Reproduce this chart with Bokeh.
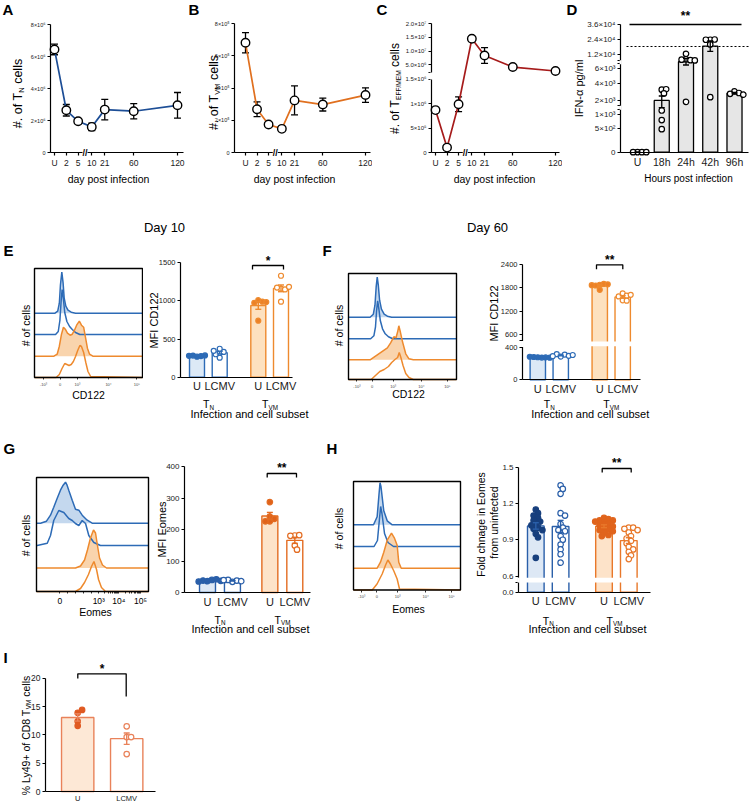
import numpy as np
from math import pi
from bokeh.plotting import figure
from bokeh.layouts import row, column
from bokeh.models import (ColumnDataSource, Whisker, TeeHead, Label,
                          FixedTicker, Range1d)
from bokeh.embed import file_html
from bokeh.resources import INLINE

FONT = "Liberation Sans"

# ------------------------------------------------------------------ data
# A-C: cell numbers after LCMV infection (mean and SEM)
days = ["U", "2", "5", "10", "21", "60", "120"]
tn_mean = [6.44e6, 2.64e6, 1.95e6, 1.60e6, 2.68e6, 2.58e6, 2.95e6]
tn_sem = [0.33e6, 0.36e6, 0.05e6, 0.23e6, 0.64e6, 0.48e6, 0.80e6]
tvm_mean = [6.82e5, 2.69e5, 1.74e5, 1.47e5, 3.24e5, 2.98e5, 3.57e5]
tvm_sem = [0.63e5, 0.46e5, 0.05e5, 0.05e5, 0.90e5, 0.40e5, 0.45e5]
teff_mean = [8.7e5, 1.0e5, 9.9e5, 1.45e7, 8.4e6, 4.15e6, 2.7e6]
teff_sem = [0.2e5, 0.1e5, 1.5e5, 0.4e6, 2.9e6, 0.2e6, 0.1e6]

# D: serum IFN-alpha (pg/ml) per mouse
ifn_hours = ["U", "18h", "24h", "42h", "96h"]
ifn_u = [0, 0, 0, 0]
ifn_18h = [3300, 3350, 2850, 1270, 790, 480]
ifn_24h = [12800, 10000, 9600, 9800, 9500, 1900]
ifn_42h = [23800, 24000, 23800, 20100, 2400]
ifn_96h = [3100, 2900, 2800, 2700]
ifn_limit = 18500

# E-H: groups are TN U, TN LCMV, TVM U, TVM LCMV
subset_ticks = ["U", "LCMV", "U", "LCMV"]
cd122_day10 = [[268, 276, 282, 285, 279],
               [255, 322, 330, 372, 300, 345],
               [1010, 990, 975, 985, 740],
               [1330, 1160, 1150, 1175, 1185, 990]]
cd122_day60 = [[282, 278, 285, 280, 288, 276],
               [290, 315, 320, 300, 295, 310],
               [1880, 1900, 1860, 1890, 1750, 1870],
               [1660, 1600, 1580, 1480, 1470, 1620]]
eomes_mfi = [[36, 40, 38, 42, 35, 37],
             [34, 38, 40, 36, 39],
             [287, 226, 234, 241, 226],
             [181, 182, 180, 149, 136]]
eomes_fold = [[1.15, 1.12, 1.10, 1.08, 1.06, 1.05, 1.03, 1.02, 1.00, 0.99, 0.98, 0.95, 0.92, 0.75],
              [1.35, 1.32, 1.28, 1.12, 1.10, 1.03, 1.00, 0.98, 0.97, 0.93, 0.90, 0.86, 0.82, 0.78, 0.71],
              [1.08, 1.07, 1.06, 1.06, 1.05, 1.04, 1.03, 1.02, 1.01, 1.00, 0.99, 0.98, 0.97, 0.96, 0.94, 0.93],
              [1.00, 1.00, 0.99, 0.98, 0.96, 0.93, 0.91, 0.89, 0.87, 0.84, 0.82, 0.80, 0.77, 0.74]]

# I: Ly49+ of CD8 TVM cells (%)
ly49_groups = ["U", "LCMV"]
ly49_u = [13.9, 14.4, 12.4, 11.6]
ly49_lcmv = [11.5, 9.6, 9.6, 6.6]

# Histogram overlays: channel (% of axis) and event counts
e_tn_u_x = [0, 19, 21.5, 23, 24, 25.3, 26.5, 27.5, 29, 31, 34, 38, 100]
e_tn_u_y = [0, 0, 2, 10, 28, 41, 30, 15, 7, 3, 1, 0, 0]
e_tn_l_x = [0, 19.5, 22, 23.5, 24.7, 25.6, 26.7, 28, 30, 32.5, 35, 38, 42, 100]
e_tn_l_y = [0, 0, 3, 14, 34, 45, 36, 22, 13, 8, 5, 2, 0, 0]
e_vm_u_x = [0, 18, 21, 23, 25, 26.8, 28.5, 30.5, 33, 35, 37, 39, 41.5, 43.5, 45.5, 47, 49, 51, 54, 100]
e_vm_u_y = [0, 0, 2, 10, 22, 29, 27, 23, 21, 22, 26, 31, 35, 31, 29, 20, 8, 2, 0, 0]
e_vm_l_x = [0, 20, 23, 25.5, 28, 30, 32, 34, 36, 38, 40, 42, 43.5, 45.5, 47.5, 49.5, 52, 100]
e_vm_l_y = [0, 0, 3, 9, 14, 13, 12, 13, 16, 21, 27, 32, 31, 25, 15, 6, 1, 0]

f_tn_u_x = [0, 20, 23, 24.5, 25.6, 26.6, 27.6, 28.8, 30.5, 33, 36, 40, 100]
f_tn_u_y = [0, 0, 3, 12, 30, 40, 32, 17, 8, 3, 1, 0, 0]
f_tn_l_x = [0, 20.5, 23.5, 25, 26, 27, 28, 29.5, 31.5, 34, 37, 41, 100]
f_tn_l_y = [0, 0, 3, 12, 28, 38, 31, 18, 10, 5, 2, 0, 0]
f_vm_u_x = [0, 20, 24, 28, 32, 36, 39, 42, 44, 45.5, 46.6, 48, 50, 53, 56, 60, 100]
f_vm_u_y = [0, 0, 3, 6, 9, 12, 17, 23, 22, 28, 34, 28, 18, 6, 1, 0, 0]
f_vm_l_x = [0, 21, 25, 29, 33, 37, 40, 43, 45.5, 47, 48.5, 50.5, 53, 56, 60, 100]
f_vm_l_y = [0, 0, 4, 8, 10, 13, 17, 20, 22, 27, 22, 14, 6, 2, 0, 0]

g_tn_u_x = [0, 3.6, 8.9, 12.5, 15.4, 18.5, 21.4, 23.8, 25.9, 27.3, 28.8, 31.9, 34.8, 37.8, 40.8, 45.3, 49.7, 100]
g_tn_u_y = [0, 0, 2, 8, 16, 25, 33, 38, 41, 38, 33, 23, 14, 13, 8, 3, 0, 0]
g_tn_l_x = [0, 0.6, 9.6, 12.5, 15.4, 19.9, 24.4, 28.8, 31.9, 34.8, 37.8, 40.8, 43.8, 46.7, 51.2, 57.1, 100]
g_tn_l_y = [0, 0, 2.3, 10, 25, 35, 33, 27, 25, 22, 20, 25, 22, 10, 3, 0, 0]
g_vm_u_x = [0, 34.8, 39.3, 42.9, 45.5, 48.2, 50.9, 52.7, 54.5, 56.3, 58.9, 62.5, 100]
g_vm_u_y = [0, 0, 2, 8, 18, 30, 38, 35, 22, 10, 3, 0, 0]
g_vm_l_x = [0, 34.8, 39.3, 42.9, 46.4, 49.1, 51.3, 53.6, 55.4, 58, 61.6, 100]
g_vm_l_y = [0, 0, 3, 9, 17, 25, 30, 22, 12, 4, 0, 0]

h_tn_u_x = [0, 18.7, 22.1, 23.8, 24.8, 25.7, 28.3, 31.5, 36.2, 100]
h_tn_u_y = [0, 0, 8, 30, 42, 38, 14, 4, 0, 0]
h_tn_l_x = [0, 19.2, 22.4, 24.3, 25.4, 26.6, 29, 32.2, 37.4, 100]
h_tn_l_y = [0, 0, 6, 28, 40, 33, 13, 4, 0, 0]
h_vm_u_x = [0, 22.1, 25.2, 28.3, 31.5, 35.5, 38.3, 40.8, 42.3, 44.6, 100]
h_vm_u_y = [0, 0, 6, 16, 28, 35, 30, 23, 6, 0, 0]
h_vm_l_x = [0, 17.5, 22, 26.8, 30, 32.1, 34.5, 37.7, 40.8, 43, 100]
h_vm_l_y = [0, 0, 6, 16, 25, 30, 26, 19, 11, 1, 0]

# ------------------------------------------------------------------ axis layouts
DAY_POS = [0, 1, 2, 3.15, 4.25, 6.7, 10.4]
DAY_BREAK = 2.58
C_KV, C_KD = [0, 1.5e6, 2.2e6, 2.0e7], [0, 73.3, 80.3, 129.0]
D_KV = [0, 500, 1000, 2000, 4000, 6000, 12000, 24000, 36000]
D_KD = [0, 24, 38, 51.7, 68.4, 84, 97.4, 112.7, 127.7]
F_KV, F_KD = [0, 400, 440, 2400], [0, 32, 39, 115.3]
H_KV, H_KD = [0, 0.1, 0.6, 1.5], [0, 9.0, 16.2, 125.0]

SUP = str.maketrans("0123456789", "\u2070\u00b9\u00b2\u00b3\u2074\u2075\u2076\u2077\u2078\u2079")


def sci(m, e):
    return f"{m}\u00d710{str(e).translate(SUP)}"


def piece(kv, kd):
    return lambda v: np.interp(np.asarray(v, float), kv, kd)


ident = lambda v: np.asarray(v, float)

WIDTHS = {" ": 278, "#": 556, ".": 278, "o": 556, "f": 278, "T": 611, "c": 500,
          "e": 556, "l": 222, "s": 500, "N": 722, "V": 667, "M": 833, "E": 667,
          "F": 611, "/": 278, "%": 889, "L": 556, "y": 500, "+": 584, "C": 722,
          "D": 722, "i": 222, "r": 333, "m": 833, "t": 278}


def text_w(s, fs):
    return sum(WIDTHS.get(c, 556) for c in s) * fs / 1000.0


class Pane:
    """A figure covering one page region; its axes are pinned inside it."""

    def __init__(self, ox, oy, w, h, box, xmap, ymap):
        L, T, R, B = box
        self.xm, self.ym = xmap, ymap
        self.sx = (xmap[3] - xmap[1]) / (xmap[2] - xmap[0])
        self.sy = (ymap[1] - ymap[3]) / (ymap[2] - ymap[0])
        p = figure(width=w, height=h,
                   x_range=Range1d(self.fx(ox), self.fx(ox + w)),
                   y_range=Range1d(self.fy(oy + h), self.fy(oy)),
                   output_backend="svg", toolbar_location=None,
                   min_border_left=0, min_border_right=0,
                   min_border_top=0, min_border_bottom=0)
        p.title.visible = False
        p.outline_line_color = None
        p.xgrid.visible = False
        p.ygrid.visible = False
        p.background_fill_color = "white"
        p.border_fill_color = "white"
        xa, ya = p.xaxis[0], p.yaxis[0]
        xa.fixed_location = self.fy(B)
        ya.fixed_location = self.fx(L)
        xa.bounds = (self.fx(L), self.fx(R))
        self.p = p
        self.L, self.T, self.R, self.B = L, T, R, B

    def fx(self, X):
        a, pa, b, pb = self.xm
        return a + (X - pa) * (b - a) / (pb - pa)

    def fy(self, Y):
        a, pa, b, pb = self.ym
        return a + (Y - pa) * (b - a) / (pb - pa)

    def label(self, X, Y, text, fs, align="center", baseline="middle", angle=0.0,
              bold=False, color="black"):
        self.p.add_layout(Label(x=self.fx(X), y=self.fy(Y), text=text, text_font=FONT,
                                text_font_size=f"{fs:.2f}px", text_align=align,
                                text_baseline=baseline, angle=angle, text_color=color,
                                text_font_style="bold" if bold else "normal"))

    def rich(self, X, Y, parts, fs, vertical=False):
        total = sum(text_w(t, fs * k) for t, k, _ in parts)
        pos = -total / 2.0
        for t, k, sh in parts:
            f = fs * k
            lead = text_w(t[:len(t) - len(t.lstrip())], f)
            body = t.strip()
            if vertical:
                self.label(X + 0.35 * fs + sh * fs, Y - (pos + lead), body, f,
                           align="left", baseline="alphabetic", angle=pi / 2)
            else:
                self.label(X + pos + lead, Y + 0.35 * fs + sh * fs, body, f,
                           align="left", baseline="alphabetic")
            pos += text_w(t, f)

    def mask(self, xd, yd, fs, text="\u2002", color="black", bold=False):
        self.p.add_layout(Label(x=xd, y=yd, text=text, text_font=FONT,
                                text_font_size=f"{fs}px", text_align="center",
                                text_baseline="middle", text_color=color,
                                text_font_style="bold" if bold else "normal",
                                background_fill_color="white"))

    def bracket(self, x0, x1, y, y_left, y_right, star, star_y, fs=12):
        xs = [self.fx(x0), self.fx(x0), self.fx(x1), self.fx(x1)]
        ys = [self.fy(y_left), self.fy(y), self.fy(y), self.fy(y_right)]
        self.p.line(xs, ys, line_color="black", line_width=1.3)
        self.label((x0 + x1) / 2, star_y, star, fs, bold=True)


def set_ticks(ax, ticks, labels, fs, tick_out=3, minor=None, lw=1.2, standoff=2,
              color="#1a1a1a"):
    ticks = [round(float(t), 4) for t in ticks]
    ax.ticker = FixedTicker(ticks=ticks, minor_ticks=[float(m) for m in (minor or [])])
    ax.major_label_overrides = {t: l for t, l in zip(ticks, labels)}
    ax.major_label_text_font = FONT
    ax.major_label_text_font_size = f"{fs}px"
    ax.major_label_text_color = color
    ax.major_label_standoff = standoff
    ax.axis_line_width = lw
    ax.axis_line_color = "black"
    ax.major_tick_line_width = lw
    ax.major_tick_line_color = "black" if tick_out > 0 else None
    ax.major_tick_in = 0
    ax.major_tick_out = int(tick_out)
    if minor:
        ax.minor_tick_line_color = "black"
        ax.minor_tick_line_width = lw
        ax.minor_tick_in = 0
        ax.minor_tick_out = 2
    else:
        ax.minor_tick_line_color = None


def swarm(ypx, d):
    cands = [0.0] + [s * k * d * 0.4 for k in range(1, 16) for s in (1, -1)]
    placed, out = [], []
    for y in ypx:
        for c in cands:
            if all((c - a) ** 2 + (y - b) ** 2 >= (0.75 * d) ** 2 for a, b in placed):
                break
        placed.append((c, y))
        out.append(c)
    return out


def line_panel(pane, mean, sem, color, disp):
    m = np.asarray(mean, float)
    s = np.asarray(sem, float)
    src = ColumnDataSource(dict(x=DAY_POS, y=disp(m), up=disp(m + s), lo=disp(m - s)))
    head = dict(size=7, line_color="black", line_width=1.3)
    pane.p.add_layout(Whisker(source=src, base="x", upper="up", lower="lo",
                              line_color="black", line_width=1.3, level="underlay",
                              upper_head=TeeHead(**head), lower_head=TeeHead(**head)))
    pane.p.line("x", "y", source=src, line_color=color, line_width=1.7)
    pane.p.scatter("x", "y", source=src, marker="circle", size=8.5, fill_color="white",
                   line_color="black", line_width=1.4)
    set_ticks(pane.p.xaxis[0], DAY_POS, days, 8.5)
    pane.mask(DAY_BREAK, 0, 9, text="//", bold=True)


def bar_panel(pane, groups, pos, width, outline, fill, dot_fill, dot_line, dot_size,
              disp=ident, band=None, head=6, lw=1.4):
    p = pane.p
    for i, pts in enumerate(groups):
        a = np.asarray(pts, float)
        m = a.mean()
        p.vbar(x=[pos[i]], top=[float(disp(m))], bottom=[0], width=width,
               fill_color=fill[i], line_color=outline[i], line_width=lw)
    if band is not None:
        p.quad(left=[pane.fx(pane.L)], right=[pane.fx(pane.R)], bottom=[band[0]],
               top=[band[1]], fill_color="white", line_color=None)
    for i, pts in enumerate(groups):
        a = np.asarray(pts, float)
        m = a.mean()
        se = a.std(ddof=1) / np.sqrt(len(a)) if len(a) > 1 else 0.0
        ypx = disp(a) * pane.sy
        offs = np.array(swarm(list(ypx), dot_size)) / pane.sx
        p.scatter(x=list(pos[i] + offs), y=list(disp(a)), marker="circle", size=dot_size,
                  fill_color=dot_fill[i], line_color=dot_line[i], line_width=1.2)
        src = ColumnDataSource(dict(x=[pos[i]], up=[float(disp(m + se))], lo=[float(disp(m - se))]))
        th = dict(size=head, line_color=outline[i], line_width=lw)
        p.add_layout(Whisker(source=src, base="x", upper="up", lower="lo",
                             line_color=outline[i], line_width=lw, level="annotation",
                             upper_head=TeeHead(**th), lower_head=TeeHead(**th)))


def hist_panel(pane, traces, ticks, tick_labels, fs, minor=None, color="#444444"):
    p = pane.p
    p.yaxis.visible = False
    for xs, ys, off, col, fillc in traces:
        if fillc:
            p.varea(x=xs, y1=[off] * len(xs), y2=[off + y for y in ys], fill_color=fillc)
    for xs, ys, off, col, fillc in traces:
        p.line(xs, [off + y for y in ys], line_color=col, line_width=1.5)
    # histogram box
    p.quad(left=[0], right=[100], bottom=[0], top=[pane.fy(pane.T)], fill_color=None,
           line_color="black", line_width=1.4)
    ax = p.xaxis[0]
    set_ticks(ax, ticks, tick_labels, fs, tick_out=2, minor=minor, lw=0.8, color=color)
    ax.axis_line_color = None


BLUE, BLUE_F = "#2d6bb6", "#c4d8ee"
ORNG, ORNG_F = "#ee8a2e", "#f9d4ad"
CAT_FS = 11

# ------------------------------------------------------------------ row 1
A = Pane(0, 0, 186, 186, (50, 16, 183, 152), (0, 54, 10.4, 177), (0, 152, 8e6, 24))
line_panel(A, tn_mean, tn_sem, "#1d4e96", ident)
set_ticks(A.p.yaxis[0], [0, 2e6, 4e6, 6e6, 8e6], ["0", sci(2, 6), sci(4, 6), sci(6, 6), sci(8, 6)], 5.5)
A.p.yaxis[0].bounds = (0, 8e6)
A.label(2, 9, "A", 15, align="left", bold=True)
A.rich(13, 93, [("#. of T", 1, 0), ("N", 0.6, 0.28), (" cells", 1, 0)], 12.5, vertical=True)
A.label(108, 178, "day post infection", 10.5)

B = Pane(186, 0, 186, 186, (234, 16, 370, 152), (0, 245, 10.4, 365), (0, 152, 8e5, 23.3))
line_panel(B, tvm_mean, tvm_sem, "#e0701f", ident)
set_ticks(B.p.yaxis[0], [0, 2e5, 4e5, 6e5, 8e5], ["0", sci(2, 5), sci(4, 5), sci(6, 5), sci(8, 5)], 5.5)
B.p.yaxis[0].bounds = (0, 8e5)
B.label(188, 9, "B", 15, align="left", bold=True)
B.rich(209, 92, [("#. of T", 1, 0), ("VM", 0.6, 0.28), (" cells", 1, 0)], 12.5, vertical=True)
B.label(294, 178, "day post infection", 10.5)

c_disp = piece(C_KV, C_KD)
C = Pane(372, 0, 190, 186, (431, 16, 559, 152), (0, 435, 10.4, 555), (0, 152, 129, 23.3))
line_panel(C, teff_mean, teff_sem, "#a61b1b", c_disp)
c_vals = [0, 5e5, 1e6, 1.5e6, 5e6, 1e7, 1.5e7, 2e7]
c_labs = ["0", sci(5, 5), sci(1, 6), sci(1.5, 6), sci("5.0", 6), sci("1.0", 7), sci(1.5, 7), sci("2.0", 7)]
set_ticks(C.p.yaxis[0], list(c_disp(c_vals)) + [80.3], c_labs + [""], 6)
C.p.yaxis[0].bounds = (0, 129)
C.mask(C.fx(C.L), 76.8, 7)
C.label(376, 9, "C", 15, align="left", bold=True)
C.rich(390, 88, [("#. of T", 1, 0), ("EFF/MEM", 0.55, 0.28), (" cells", 1, 0)], 12, vertical=True)
C.label(494, 178, "day post infection", 10.5)

d_disp = piece(D_KV, D_KD)
D = Pane(562, 0, 188, 186, (620, 10, 748, 151.7), (0, 637, 4, 734), (0, 151.7, 127.7, 24))
bar_panel(D, [ifn_u, ifn_18h, ifn_24h, ifn_42h, ifn_96h], [0, 1, 2, 3, 4], 0.62,
          ["black"] * 5, ["#e6e6e6"] * 5, ["white"] * 5, ["black"] * 5, 5.5,
          disp=d_disp, head=6, lw=1.3)
d_labs = ["0", sci(5, 2), sci(1, 3), sci(2, 3), sci(4, 3), sci(6, 3), sci(1.2, 4), sci(2.4, 4), sci(3.6, 4)]
set_ticks(D.p.yaxis[0], list(d_disp(D_KV)) + [42.7, 46.4, 88.4, 91.7], d_labs + [""] * 4, 8)
D.p.yaxis[0].bounds = (0, 127.7)
set_ticks(D.p.xaxis[0], [0, 1, 2, 3, 4], ifn_hours, 10.5, tick_out=0, standoff=4)
D.mask(D.fx(D.L), 44.55, 3.5)
D.mask(D.fx(D.L), 90.05, 3.5)
D.p.line([D.fx(626), D.fx(750)], [float(d_disp(ifn_limit))] * 2, line_color="black",
         line_width=1.2, line_dash="2 2")
D.bracket(629, 741, 24, 24, 24, "**", 15)
D.label(566, 9, "D", 15, align="left", bold=True)
D.label(578, 88, "IFN-\u03b1 pg/ml", 11, angle=pi / 2)
D.label(688, 178, "Hours post infection", 10)

# ------------------------------------------------------------------ row 2
EF_OUT = [BLUE, BLUE, ORNG, ORNG]
EF_FILL = ["#dce9f6", "white", "#fde1bf", "white"]
EF_DOT = [BLUE, "white", "#ec8126", "white"]
HIST_TICKS_E = [8.3, 23.8, 39.8, 68.5, 94.8]
HIST_TICKS_F = [7.8, 21.8, 41.3, 67.4, 91.6]
HIST_LABS = ["-10\u00b3", "0", "10\u00b3", "10\u2074", "10\u2075"]

Eh = Pane(0, 186, 143, 234, (34, 268, 142, 377), (0, 34, 100, 142), (0, 377, 109, 268))
hist_panel(Eh, [(e_tn_u_x, e_tn_u_y, 64.3, BLUE, BLUE_F), (e_tn_l_x, e_tn_l_y, 43, BLUE, None),
                (e_vm_u_x, e_vm_u_y, 21.3, ORNG, ORNG_F), (e_vm_l_x, e_vm_l_y, 0, ORNG, None)],
           HIST_TICKS_E, HIST_LABS, 4)
Eh.label(3, 250, "E", 15, align="left", bold=True)
Eh.label(25, 325, "# of cells", 10.5, angle=pi / 2)
Eh.label(88, 394, "CD122", 10.5)

Eb = Pane(143, 186, 175, 234, (180, 252, 292, 376.6), (0, 196.5, 3.7, 280.5), (0, 376.6, 1500, 262.3))
bar_panel(Eb, cd122_day10, [0, 1, 2.7, 3.7], 0.66, EF_OUT, EF_FILL, EF_DOT, EF_OUT, 5)
set_ticks(Eb.p.yaxis[0], [0, 500, 1000, 1500], ["0", "500", "1000", "1500"], 7.5)
Eb.p.yaxis[0].bounds = (0, 1500)
set_ticks(Eb.p.xaxis[0], [0, 1, 2.7, 3.7], subset_ticks, CAT_FS, tick_out=0, standoff=3)
Eb.label(164, 227, "Day 10", 13)
Eb.label(153, 320, "MFI CD122", 11, angle=pi / 2)
Eb.rich(208, 400, [("T", 1, 0), ("N", 0.6, 0.28)], 10.5)
Eb.rich(269.5, 400, [("T", 1, 0), ("VM", 0.6, 0.28)], 10.5)
Eb.label(249, 413, "Infection and cell subset", 11)
Eb.bracket(252, 283, 265, 269, 269, "*", 260)

Fh = Pane(318, 186, 142, 234, (348, 273, 456, 379), (0, 348, 100, 456), (0, 379, 106, 273))
hist_panel(Fh, [(f_tn_u_x, f_tn_u_y, 62.3, BLUE, BLUE_F), (f_tn_l_x, f_tn_l_y, 40.7, BLUE, None),
                (f_vm_u_x, f_vm_u_y, 19.7, ORNG, ORNG_F), (f_vm_l_x, f_vm_l_y, 0, ORNG, None)],
           HIST_TICKS_F, HIST_LABS, 4)
Fh.label(322, 250, "F", 15, align="left", bold=True)
Fh.label(338, 325, "# of cells", 10.5, angle=pi / 2)
Fh.label(408, 393, "CD122", 10.5)

f_disp = piece(F_KV, F_KD)
Fb = Pane(460, 186, 290, 234, (522, 252, 640, 379.3), (0, 537.3, 3.7, 622.2), (0, 379.3, 115.3, 264))
bar_panel(Fb, cd122_day60, [0, 1, 2.7, 3.7], 0.67, EF_OUT, EF_FILL, EF_DOT, EF_OUT, 5,
          disp=f_disp, band=(33.6, 38.4))
f_vals = [0, 400, 600, 1200, 1800, 2400]
set_ticks(Fb.p.yaxis[0], list(f_disp(f_vals)) + [39.0], [str(v) for v in f_vals] + [""], 7.5)
Fb.p.yaxis[0].bounds = (0, 115.3)
Fb.mask(Fb.fx(Fb.L), 35.8, 5.5)
set_ticks(Fb.p.xaxis[0], [0, 1, 2.7, 3.7], subset_ticks, CAT_FS, tick_out=0, standoff=3)
Fb.label(487, 227, "Day 60", 13)
Fb.label(493, 313, "MFI CD122", 11, angle=pi / 2)
Fb.rich(548.7, 400, [("T", 1, 0), ("N", 0.6, 0.28)], 10.5)
Fb.rich(610.8, 400, [("T", 1, 0), ("VM", 0.6, 0.28)], 10.5)
Fb.label(589.7, 413, "Infection and cell subset", 11)
Fb.bracket(596, 622.3, 264.3, 268.7, 268.7, "**", 259)

# ------------------------------------------------------------------ row 3
GH_OUT = ["#2a5fa9", "#2a5fa9", "#e36c22", "#e36c22"]
GH_FILL = ["#dde8f5", "white", "#fde3c9", "white"]

g_minor = ([27.8, 34.8, 41.7, 48.7]
           + [55.6 + 17.9 * np.log10(k) for k in range(2, 10)]
           + [73.5 + 19.4 * np.log10(k) for k in range(2, 10)])
Gh = Pane(0, 420, 155, 220, (36, 477, 148, 591), (0, 36, 100, 148), (0, 591, 114, 477))
hist_panel(Gh, [(g_tn_u_x, g_tn_u_y, 68.3, BLUE, BLUE_F), (g_tn_l_x, g_tn_l_y, 46, BLUE, None),
                (g_vm_u_x, g_vm_u_y, 23.5, ORNG, ORNG_F), (g_vm_l_x, g_vm_l_y, 0, ORNG, None)],
           [20.8, 55.6, 73.5, 92.9], ["0", "10\u00b3", "10\u2074", "10\u2075"], 8.5,
           minor=g_minor, color="black")
Gh.label(3, 448, "G", 15, align="left", bold=True)
Gh.label(25, 535, "# of cells", 10.5, angle=pi / 2)
Gh.label(95, 611, "Eomes", 10.5)

Gb = Pane(155, 420, 167, 220, (184, 456, 310, 592), (0, 207, 3.5, 294.3), (0, 592, 400, 466))
bar_panel(Gb, eomes_mfi, [0, 1, 2.5, 3.5], 0.64, GH_OUT, GH_FILL,
          ["#2a5fa9", "white", "#e0621a", "white"], GH_OUT, 5.5)
set_ticks(Gb.p.yaxis[0], [0, 100, 200, 300, 400], ["0", "100", "200", "300", "400"], 8)
Gb.p.yaxis[0].bounds = (0, 400)
set_ticks(Gb.p.xaxis[0], [0, 1, 2.5, 3.5], subset_ticks, CAT_FS, tick_out=0, standoff=3)
Gb.label(161, 529, "MFI Eomes", 11, angle=pi / 2)
Gb.rich(219.5, 615.5, [("T", 1, 0), ("N", 0.6, 0.28)], 10.5)
Gb.rich(282, 615.5, [("T", 1, 0), ("VM", 0.6, 0.28)], 10.5)
Gb.label(250, 628, "Infection and cell subset", 11)
Gb.bracket(266.7, 296, 473, 477, 477, "**", 467)

Hh = Pane(322, 420, 143, 220, (353, 481, 460, 589.5), (0, 353, 100, 460), (0, 589.5, 108.5, 481))
hist_panel(Hh, [(h_tn_u_x, h_tn_u_y, 65.2, BLUE, BLUE_F), (h_tn_l_x, h_tn_l_y, 43.5, BLUE, None),
                (h_vm_u_x, h_vm_u_y, 21.8, ORNG, ORNG_F), (h_vm_l_x, h_vm_l_y, 0, ORNG, None)],
           HIST_TICKS_F, HIST_LABS, 4)
Hh.label(326, 448, "H", 15, align="left", bold=True)
Hh.label(338, 528, "# of cells", 10.5, angle=pi / 2)
Hh.label(408, 608, "Eomes", 10.5)

h_disp = piece(H_KV, H_KD)
Hb = Pane(465, 420, 285, 220, (518, 456, 650, 591.7), (0, 535.3, 3.75, 628.3), (0, 591.7, 125.0, 466.7))
bar_panel(Hb, eomes_fold, [0, 1, 2.75, 3.75], 0.67,
          ["#2a5fa9", "#2a5fa9", "#e8782a", "#e8782a"], GH_FILL,
          ["#173f7d", "white", "#e0641c", "white"],
          ["#173f7d", "#2a5fa9", "#e0641c", "#e8782a"], 5.5, disp=h_disp, band=(9.7, 14.5))
h_vals = [0.0, 0.6, 0.9, 1.2, 1.5]
set_ticks(Hb.p.yaxis[0], list(h_disp(h_vals)) + [9.7],
          ["0.0", "0.6", "0.9", "1.2", "1.5", ""], 8)
Hb.p.yaxis[0].bounds = (0, 125.0)
Hb.mask(Hb.fx(Hb.L), 12.1, 4.5)
set_ticks(Hb.p.xaxis[0], [0, 1, 2.75, 3.75], subset_ticks, CAT_FS, tick_out=0, standoff=3)
Hb.label(480, 524, "Fold chnage in Eomes", 10.5, angle=pi / 2)
Hb.label(493.5, 522, "from uninfected", 10.5, angle=pi / 2)
Hb.rich(547.7, 616.5, [("T", 1, 0), ("N", 0.6, 0.28)], 10.5)
Hb.rich(614, 616.5, [("T", 1, 0), ("VM", 0.6, 0.28)], 10.5)
Hb.label(587, 628.5, "Infection and cell subset", 11)
Hb.bracket(601.7, 630.7, 468, 472, 472, "**", 462.5)

# ------------------------------------------------------------------ row 4
I = Pane(0, 640, 200, 166, (45, 662, 155, 791), (0, 77.2, 1, 126.2), (0, 791, 20, 677.7))
bar_panel(I, [ly49_u, ly49_lcmv], [0, 1], 0.66, ["#e9825a", "#e9825a"], ["#fde8d6", "white"],
          ["#e05a22", "white"], ["#e05a22", "#e9825a"], 5.5)
set_ticks(I.p.yaxis[0], [0, 5, 10, 15, 20], ["0", "5", "10", "15", "20"], 8.5)
I.p.yaxis[0].bounds = (0, 20)
set_ticks(I.p.xaxis[0], [0, 1], ly49_groups, 7.5, tick_out=0)
I.label(3, 657, "I", 15, align="left", bold=True)
I.rich(21.7, 735, [("% Ly49+ of CD8 T", 1, 0), ("VM", 0.6, 0.28), (" cells", 1, 0)], 10.5, vertical=True)
I.bracket(77.3, 125.7, 673.3, 678, 696, "*", 668)

layout = column(
    row(A.p, B.p, C.p, D.p),
    row(Eh.p, Eb.p, Fh.p, Fb.p),
    row(Gh.p, Gb.p, Hh.p, Hb.p),
    row(I.p),
)

open("out.html", "w").write(file_html(layout, INLINE))
